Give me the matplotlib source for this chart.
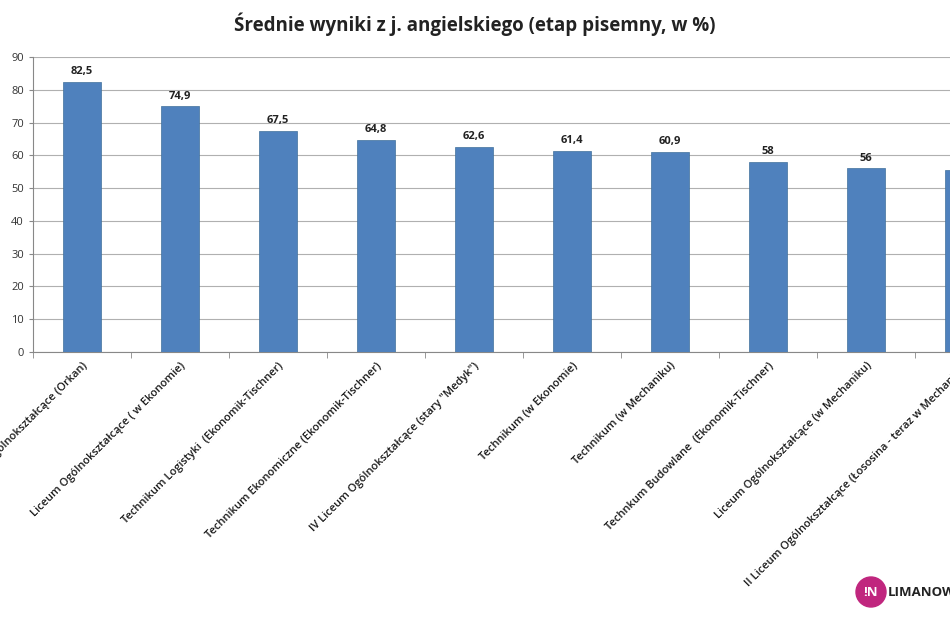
import matplotlib
matplotlib.use("Agg")
import matplotlib.pyplot as plt
from matplotlib.patches import Ellipse

categories = [
    "I Liceum Ogólnokształcące (Orkan)",
    "Liceum Ogólnokształcące ( w Ekonomie)",
    "Technikum Logistyki  (Ekonomik-Tischner)",
    "Technikum Ekonomiczne (Ekonomik-Tischner)",
    "IV Liceum Ogólnokształcące (stary \"Medyk\")",
    "Technikum (w Ekonomie)",
    "Technikum (w Mechaniku)",
    "Technkum Budowlane  (Ekonomik-Tischner)",
    "Liceum Ogólnokształcące (w Mechaniku)",
    "II Liceum Ogólnokształcące (Łososina - teraz w Mechaniku)",
]
values = [82.5, 74.9, 67.5, 64.8, 62.6, 61.4, 60.9, 58, 56, 55.5]
labels = ["82,5", "74,9", "67,5", "64,8", "62,6", "61,4", "60,9", "58", "56", ""]
yticks = list(range(0, 91, 10))

plt.rcParams['font.family'] = ['Open Sans', 'DejaVu Sans']
W, H = 950, 632
fig = plt.figure(figsize=(W/100, H/100), dpi=100)
left, right, bottom, top = 33, 33 + 98*10, 352, 57
ax = fig.add_axes([left/W, 1-bottom/H, (right-left)/W, (bottom-top)/H])
x = list(range(len(values)))
ax.bar(x, values, width=0.39, color="#4f81bd", edgecolor="#41719c", linewidth=0.5, zorder=3)
for xi, v, l in zip(x, values, labels):
    ax.text(xi, v + 1.5, l, ha="center", va="bottom", fontsize=8, fontweight="bold", color="#222222")
ax.set_xlim(-0.5, len(values) - 0.5)
ax.set_ylim(0, 90)
ax.set_yticks(yticks)
ax.tick_params(axis="y", labelsize=8, length=3, color="#888888", colors="#333333")
ax.yaxis.grid(True, color="#b0b0b0", linewidth=0.8, zorder=0)
ax.set_xticks(x)
ax.set_xticklabels(categories, rotation=45, ha="right", rotation_mode="anchor", fontsize=8,
                   fontweight="semibold", color="#1a1a1a")
ax.tick_params(axis="x", length=0, pad=6)
ax.set_xticks([i - 0.5 for i in range(len(values) + 1)], minor=True)
ax.tick_params(axis="x", which="minor", length=4, color="#888888")
for s in ["top", "right"]:
    ax.spines[s].set_visible(False)
for s in ["left", "bottom"]:
    ax.spines[s].set_color("#888888")
fig.text(475/W, 1-24/H, "Średnie wyniki z j. angielskiego (etap pisemny, w %)", ha="center", va="center",
         fontsize=13.5, fontweight="bold", color="#222222")
# logo
fig.patches.append(Ellipse((871/W, 1-592/H), 30/W, 30/H, transform=fig.transFigure, color="#c0267e"))
fig.text(871/W, 1-592/H, "!N", ha="center", va="center", fontsize=9.5, fontweight="bold", color="white")
fig.text(888/W, 1-592/H, "LIMANOWA", ha="left", va="center", fontsize=9.5, fontweight="bold", color="#222222")
fig.savefig("out.png", dpi=100)
